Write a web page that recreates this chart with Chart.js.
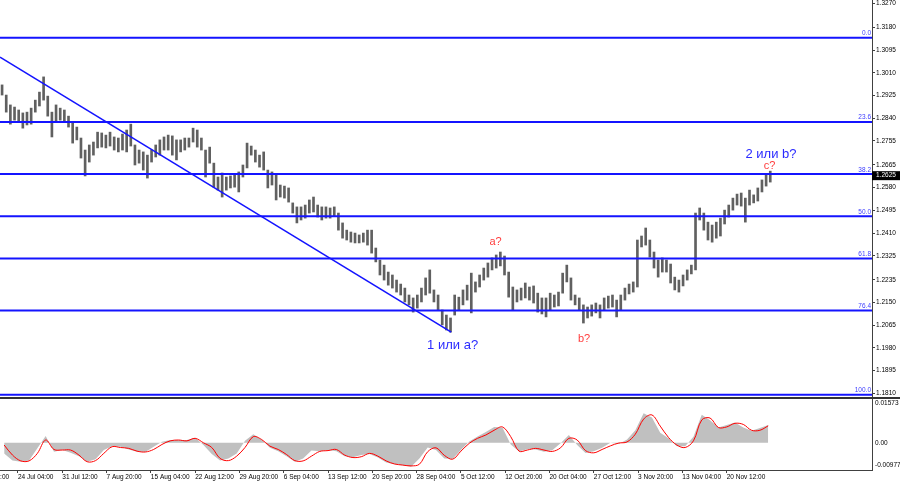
<!DOCTYPE html>
<html lang="ru">
<head>
<meta charset="UTF-8" />
<title>GBP/USD H4</title>
<script src="https://cdn.jsdelivr.net/npm/chart.js"></script>
<style>
    html, body { margin: 0; padding: 0; background: #fff; }
    body { width: 900px; height: 485px; position: relative; overflow: hidden; }
    #pricePane { position: absolute; left: 0; top: 0; width: 900px; height: 397px; border-bottom: 2px solid #333; }
    #macdPane { position: absolute; left: 0; top: 399px; width: 900px; height: 86px; }
</style>
</head>
<body>

<div id="pricePane"><canvas id="priceChart"></canvas></div>
<div id="macdPane"><canvas id="macdChart"></canvas></div>

<script>
    // x axis is counted in H4 bars, price bars grouped by three (12 hours)
    const barsPerEntry = 3;
    const xMin = 0, xMax = 630;

    const barHigh = [
        1.2965, 1.2927, 1.2890, 1.2882, 1.2871, 1.2860, 1.2863, 1.2878, 1.2908, 1.2938,
        1.2995, 1.2923, 1.2863, 1.2890, 1.2878, 1.2871, 1.2848, 1.2826, 1.2807, 1.2766,
        1.2721, 1.2740, 1.2751, 1.2788, 1.2785, 1.2777, 1.2788, 1.2770, 1.2766, 1.2781,
        1.2796, 1.2818, 1.2740, 1.2721, 1.2714, 1.2702, 1.2721, 1.2740, 1.2759, 1.2770,
        1.2777, 1.2774, 1.2759, 1.2759, 1.2766, 1.2766, 1.2803, 1.2796, 1.2766, 1.2721,
        1.2732, 1.2672, 1.2620, 1.2635, 1.2620, 1.2624, 1.2627, 1.2639, 1.2665, 1.2747,
        1.2736, 1.2721, 1.2702, 1.2714, 1.2646, 1.2639, 1.2627, 1.2590, 1.2586, 1.2579,
        1.2523, 1.2508, 1.2508, 1.2515, 1.2534, 1.2545, 1.2515, 1.2508, 1.2508, 1.2504,
        1.2508, 1.2485, 1.2448, 1.2421, 1.2414, 1.2410, 1.2403, 1.2410, 1.2421, 1.2421,
        1.2354, 1.2309, 1.2290, 1.2264, 1.2253, 1.2234, 1.2219, 1.2204, 1.2178, 1.2167,
        1.2178, 1.2204, 1.2242, 1.2272, 1.2197, 1.2178, 1.2122, 1.2103, 1.2092, 1.2178,
        1.2170, 1.2197, 1.2215, 1.2260, 1.2227, 1.2253, 1.2279, 1.2298, 1.2317, 1.2328,
        1.2339, 1.2324, 1.2264, 1.2208, 1.2197, 1.2204, 1.2223, 1.2208, 1.2212, 1.2185,
        1.2167, 1.2167, 1.2185, 1.2178, 1.2189, 1.2260, 1.2290, 1.2242, 1.2178, 1.2167,
        1.2141, 1.2133, 1.2141, 1.2148, 1.2141, 1.2167, 1.2174, 1.2178, 1.2159, 1.2178,
        1.2204, 1.2219, 1.2227, 1.2384, 1.2399, 1.2429, 1.2384, 1.2339, 1.2309, 1.2317,
        1.2309, 1.2294, 1.2245, 1.2234, 1.2253, 1.2272, 1.2290, 1.2485, 1.2504, 1.2485,
        1.2451, 1.2440, 1.2451, 1.2466, 1.2496, 1.2515, 1.2541, 1.2556, 1.2560, 1.2541,
        1.2571, 1.2553, 1.2579, 1.2609, 1.2627, 1.2642
    ];
    const barLow = [
        1.2927, 1.2863, 1.2818, 1.2833, 1.2826, 1.2803, 1.2815, 1.2818, 1.2863, 1.2886,
        1.2908, 1.2848, 1.2770, 1.2826, 1.2833, 1.2826, 1.2807, 1.2747, 1.2759, 1.2691,
        1.2624, 1.2676, 1.2702, 1.2729, 1.2732, 1.2729, 1.2736, 1.2721, 1.2714, 1.2721,
        1.2714, 1.2736, 1.2665, 1.2672, 1.2646, 1.2616, 1.2676, 1.2695, 1.2702, 1.2721,
        1.2721, 1.2702, 1.2684, 1.2714, 1.2721, 1.2732, 1.2751, 1.2732, 1.2721, 1.2620,
        1.2672, 1.2582, 1.2571, 1.2545, 1.2571, 1.2579, 1.2582, 1.2564, 1.2620, 1.2654,
        1.2702, 1.2676, 1.2657, 1.2646, 1.2579, 1.2590, 1.2534, 1.2545, 1.2541, 1.2526,
        1.2485, 1.2448, 1.2459, 1.2466, 1.2485, 1.2489, 1.2470, 1.2459, 1.2466, 1.2466,
        1.2474, 1.2421, 1.2391, 1.2384, 1.2376, 1.2373, 1.2373, 1.2376, 1.2365, 1.2335,
        1.2302, 1.2253, 1.2234, 1.2215, 1.2204, 1.2189, 1.2178, 1.2152, 1.2141, 1.2114,
        1.2129, 1.2152, 1.2178, 1.2185, 1.2152, 1.2122, 1.2066, 1.2047, 1.2039, 1.2103,
        1.2122, 1.2141, 1.2159, 1.2111, 1.2189, 1.2208, 1.2234, 1.2245, 1.2272, 1.2279,
        1.2287, 1.2253, 1.2170, 1.2122, 1.2152, 1.2159, 1.2167, 1.2159, 1.2148, 1.2114,
        1.2107, 1.2096, 1.2122, 1.2133, 1.2137, 1.2185, 1.2227, 1.2159, 1.2141, 1.2122,
        1.2073, 1.2092, 1.2099, 1.2111, 1.2092, 1.2122, 1.2129, 1.2133, 1.2096, 1.2122,
        1.2159, 1.2182, 1.2189, 1.2208, 1.2358, 1.2365, 1.2320, 1.2279, 1.2245, 1.2264,
        1.2264, 1.2223, 1.2197, 1.2189, 1.2212, 1.2234, 1.2257, 1.2272, 1.2459, 1.2421,
        1.2384, 1.2376, 1.2391, 1.2399, 1.2444, 1.2470, 1.2496, 1.2515, 1.2511, 1.2451,
        1.2515, 1.2523, 1.2530, 1.2564, 1.2586, 1.2601
    ];
    const lastPrice = 1.2625;

    // MACD, one value every 6 H4 bars
    const macdStep = 6;
    const macdMain = [
        -0.0038, -0.0064, -0.0068, -0.0064, -0.0020, 0.0024, -0.0032, -0.0026, -0.0036, -0.0048,
        -0.0068, -0.0059, -0.0026, -0.0012, -0.0014, -0.0024, -0.0032, -0.0033, -0.0014, 0.0004,
        0.0010, 0.0010, 0.0010, 0.0018, -0.0008, -0.0040, -0.0064, -0.0056, -0.0038, 0.0007,
        0.0031, 0.0012, -0.0018, -0.0030, -0.0048, -0.0068, -0.0056, -0.0028, -0.0030, -0.0026,
        -0.0030, -0.0048, -0.0052, -0.0044, -0.0040, -0.0053, -0.0071, -0.0077, -0.0081, -0.0086,
        -0.0056, -0.0017, -0.0026, -0.0056, -0.0058, -0.0026, 0.0005, 0.0023, 0.0039, 0.0057,
        0.0055, -0.0006, -0.0031, -0.0023, -0.0024, -0.0032, -0.0027, -0.0002, 0.0028, -0.0008,
        -0.0037, -0.0030, -0.0018, 0.0000, -0.0004, 0.0012, 0.0045, 0.0106, 0.0091, 0.0036,
        0.0016, -0.0012, -0.0012, 0.0022, 0.0101, 0.0081, 0.0055, 0.0064, 0.0073, 0.0055,
        0.0043, 0.0053, 0.0064
    ];
    const macdSignal = [
        -0.0008, -0.0044, -0.0065, -0.0065, -0.0038, 0.0010, -0.0024, -0.0026, -0.0026, -0.0044,
        -0.0068, -0.0064, -0.0038, -0.0014, -0.0017, -0.0020, -0.0030, -0.0033, -0.0024, -0.0006,
        0.0007, 0.0010, 0.0007, 0.0016, 0.0000, -0.0017, -0.0056, -0.0064, -0.0048, -0.0017,
        0.0022, 0.0012, -0.0012, -0.0024, -0.0042, -0.0064, -0.0065, -0.0048, -0.0031, -0.0028,
        -0.0024, -0.0044, -0.0053, -0.0050, -0.0038, -0.0048, -0.0065, -0.0076, -0.0080, -0.0083,
        -0.0077, -0.0032, -0.0018, -0.0045, -0.0059, -0.0030, -0.0002, 0.0016, 0.0028, 0.0045,
        0.0057, 0.0022, -0.0030, -0.0026, -0.0020, -0.0026, -0.0031, -0.0018, 0.0016, 0.0010,
        -0.0028, -0.0036, -0.0024, -0.0011, -0.0001, 0.0003, 0.0031, 0.0085, 0.0100, 0.0060,
        0.0019, -0.0008, -0.0017, 0.0007, 0.0082, 0.0089, 0.0055, 0.0057, 0.0070, 0.0066,
        0.0045, 0.0045, 0.0061
    ];
    const macdTicks = [0.01573, 0, -0.00977];

    // axis labels
    const priceTicks = [
        1.3270, 1.3180, 1.3095, 1.3010, 1.2925, 1.2840, 1.2755, 1.2665, 1.2580,
        1.2495, 1.2410, 1.2325, 1.2235, 1.2150, 1.2065, 1.1980, 1.1895, 1.1810
    ];
    const timeLabels = [
        '14 Jul 20:00', '24 Jul 04:00', '31 Jul 12:00', '7 Aug 20:00', '15 Aug 04:00',
        '22 Aug 12:00', '29 Aug 20:00', '6 Sep 04:00', '13 Sep 12:00', '20 Sep 20:00',
        '28 Sep 04:00', '5 Oct 12:00', '12 Oct 20:00', '20 Oct 04:00', '27 Oct 12:00',
        '3 Nov 20:00', '13 Nov 04:00', '20 Nov 12:00'
    ];
    const firstLabelBar = -19;
    const labelEvery = 32;

    // Fibonacci grid and the trend line
    const fibHigh = 1.3142, fibLow = 1.1804;
    const fibRatios = [0, 23.6, 38.2, 50.0, 61.8, 76.4, 100.0];
    const trendBars = [0, 326];
    const trendPrices = [1.3069, 1.2039];

    // wave marks
    const waveText = ['1 или a?', 'a?', 'b?', 'c?', '2 или b?'];
    const waveBar = [327, 358, 422, 556, 557];
    const wavePrice = [1.1988, 1.2375, 1.2012, 1.2662, 1.2706];

    Chart.defaults.font.family = '"Liberation Sans", Arial, sans-serif';

    const fibLevel = r => fibHigh - (fibHigh - fibLow) * r / 100;

    // keep the plot area flush with the canvas edges
    const noPad = s => { s.paddingTop = 0; s.paddingBottom = 0; s.paddingLeft = 0; s.paddingRight = 0; };

    const fibLabels = {
        id: 'fibLabels',
        afterDatasetsDraw(chart) {
            const { ctx, chartArea, scales } = chart;
            ctx.save();
            ctx.font = '6.5px "Liberation Sans"';
            ctx.fillStyle = '#3c3cff';
            ctx.textAlign = 'right';
            ctx.textBaseline = 'bottom';
            fibRatios.forEach(r => {
                const y = scales.y.getPixelForValue(fibLevel(r));
                ctx.fillText(r.toFixed(1), chartArea.right - 1, y - 1);
            });
            ctx.restore();
        }
    };

    const waveLabels = {
        id: 'waveLabels',
        afterDatasetsDraw(chart) {
            const { ctx, scales } = chart;
            ctx.save();
            ctx.textAlign = 'center';
            ctx.textBaseline = 'middle';
            waveText.forEach((t, i) => {
                const main = t.includes('или');
                ctx.font = (main ? 13 : 11) + 'px "Liberation Sans"';
                ctx.fillStyle = main ? '#2a2aff' : '#ff3c3c';
                ctx.fillText(t, scales.x.getPixelForValue(waveBar[i]), scales.y.getPixelForValue(wavePrice[i]));
            });
            ctx.restore();
        }
    };

    const priceTag = {
        id: 'priceTag',
        afterDraw(chart) {
            const { ctx, chartArea, scales } = chart;
            const y = scales.y.getPixelForValue(lastPrice);
            ctx.save();
            ctx.fillStyle = '#000';
            ctx.fillRect(chartArea.right, y - 4.5, chart.width - chartArea.right, 9);
            ctx.fillStyle = '#fff';
            ctx.font = '6.5px "Liberation Sans"';
            ctx.textAlign = 'left';
            ctx.textBaseline = 'middle';
            ctx.fillText(lastPrice.toFixed(4), chartArea.right + 4, y);
            ctx.restore();
        }
    };

    const macdAxisLabels = {
        id: 'macdAxisLabels',
        afterDraw(chart) {
            const { ctx, chartArea, scales } = chart;
            ctx.save();
            ctx.font = '6.5px "Liberation Sans"';
            ctx.fillStyle = '#000';
            ctx.textAlign = 'left';
            ctx.textBaseline = 'middle';
            macdTicks.forEach(v => {
                let y = scales.y.getPixelForValue(v);
                y = Math.min(Math.max(y, chartArea.top + 4), chartArea.bottom - 4.5);
                ctx.fillText(v === 0 ? '0.00' : v.toFixed(5), chartArea.right + 3, y);
            });
            ctx.restore();
        }
    };

    const fibSets = fibRatios.map(r => ({
        type: 'line',
        data: [{ x: xMin, y: fibLevel(r) }, { x: xMax, y: fibLevel(r) }],
        borderColor: '#1414ff',
        borderWidth: 2,
        pointRadius: 0
    }));

    new Chart(document.getElementById('priceChart'), {
        type: 'bar',
        data: {
            datasets: [
                ...fibSets,
                {
                    type: 'line',
                    data: trendBars.map((b, i) => ({ x: b, y: trendPrices[i] })),
                    borderColor: '#1414ff',
                    borderWidth: 1.6,
                    pointRadius: 0
                },
                {
                    type: 'bar',
                    data: barHigh.map((h, i) => ({ x: i * barsPerEntry + barsPerEntry / 2, y: [barLow[i], h] })),
                    backgroundColor: '#606060',
                    barThickness: 2,
                    borderWidth: 0
                }
            ]
        },
        options: {
            responsive: true,
            maintainAspectRatio: false,
            animation: false,
            layout: { padding: 0 },
            plugins: { legend: { display: false }, tooltip: { enabled: false } },
            scales: {
                x: { type: 'linear', min: xMin, max: xMax, offset: false, display: false },
                y: {
                    position: 'right',
                    min: 1.1796,
                    max: 1.3283,
                    beginAtZero: false,
                    afterFit: s => { s.width = 28; noPad(s); },
                    afterBuildTicks: s => { s.ticks = priceTicks.map(v => ({ value: v })); },
                    ticks: {
                        autoSkip: false,
                        padding: 1,
                        color: '#000',
                        font: { size: 6.5 },
                        callback: v => v.toFixed(4)
                    },
                    grid: { display: true, drawOnChartArea: false, drawTicks: true, tickLength: 3, color: '#404040' },
                    border: { display: true, color: '#404040' }
                }
            }
        },
        plugins: [fibLabels, waveLabels, priceTag]
    });

    new Chart(document.getElementById('macdChart'), {
        type: 'line',
        data: {
            datasets: [
                {
                    data: macdSignal.map((v, j) => ({ x: j * macdStep + macdStep / 2, y: v })),
                    borderColor: '#ff0000',
                    borderWidth: 1,
                    pointRadius: 0,
                    tension: 0.35,
                    fill: false
                },
                {
                    data: macdMain.map((v, j) => ({ x: j * macdStep + macdStep / 2, y: v })),
                    borderWidth: 0,
                    backgroundColor: '#c0c0c0',
                    pointRadius: 0,
                    fill: 'origin'
                }
            ]
        },
        options: {
            responsive: true,
            maintainAspectRatio: false,
            animation: false,
            layout: { padding: 0 },
            plugins: { legend: { display: false }, tooltip: { enabled: false } },
            scales: {
                x: {
                    type: 'linear',
                    min: xMin,
                    max: xMax,
                    offset: false,
                    afterFit: s => { s.height = 15; noPad(s); },
                    afterBuildTicks: s => { s.ticks = timeLabels.map((_, k) => ({ value: firstLabelBar + k * labelEvery })); },
                    ticks: {
                        align: 'start',
                        padding: 0,
                        maxRotation: 0,
                        autoSkip: false,
                        color: '#000',
                        font: { size: 6.5 },
                        callback: (v, k) => timeLabels[k]
                    },
                    grid: { display: true, drawOnChartArea: false, drawTicks: true, tickLength: 3, color: '#404040' },
                    border: { display: true, color: '#404040' }
                },
                y: {
                    position: 'right',
                    min: -0.00977,
                    max: 0.01573,
                    afterFit: s => { s.width = 28; noPad(s); },
                    ticks: { display: false },
                    grid: { display: false },
                    border: { display: true, color: '#404040' }
                }
            }
        },
        plugins: [macdAxisLabels]
    });
</script>

</body>
</html>
